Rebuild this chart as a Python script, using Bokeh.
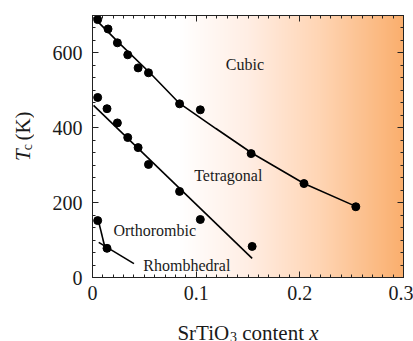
import numpy as np
from bokeh.plotting import figure
from bokeh.layouts import row, column
from bokeh.models import Label, LinearAxis, FixedTicker, Range1d
from bokeh.core.properties import value
from bokeh.embed import file_html
from bokeh.resources import INLINE

# Transition temperatures vs. SrTiO3 content
cubic_x = [0.005, 0.015, 0.024, 0.034, 0.044, 0.054, 0.084, 0.104, 0.153, 0.204, 0.254]
cubic_y = [689, 664, 627, 595, 560, 547, 464, 448, 331, 251, 189]

tetra_x = [0.005, 0.014, 0.024, 0.034, 0.044, 0.054, 0.084, 0.104, 0.154]
tetra_y = [481, 451, 413, 374, 347, 302, 230, 155, 83]

ortho_x = [0.005, 0.014]
ortho_y = [152, 78]

# Guide lines through the phase boundaries
cubic_line_x = [0.001, 0.027, 0.056, 0.084, 0.119, 0.154, 0.204, 0.254]
cubic_line_y = [695, 623, 545, 465, 398, 332, 251, 190]
tetra_line_x = [0.001, 0.154]
tetra_line_y = [460, 51]
ortho_line_x = [0.005, 0.012]
ortho_line_y = [160, 80]
rhombo_line_x = [0.006, 0.040]
rhombo_line_y = [94, 37]

x_ticks = [0, 0.1, 0.2, 0.3]
x_tick_labels = ["0", "0.1", "0.2", "0.3"]
y_ticks = [0, 200, 400, 600]

phase_names = ["Cubic", "Tetragonal", "Orthorombic", "Rhombhedral"]
phase_x = [0.147, 0.131, 0.060, 0.091]
phase_y = [570, 273, 126, 32]

X0, X1, Y0, Y1 = 0.0, 0.3, 0.0, 700.0
W, H = 413, 341
TITLE_W = 34          # strip on the left holding the y title
TITLE_H = 30          # strip at the bottom holding the x title
FL, FT, FW, FH = 92, 15, 311, 262  # frame placement on the page, pixels
FONT = "Liberation Serif"
INK = "#1a1a1a"

MW, MH = W - TITLE_W, H - TITLE_H
p = figure(width=MW, height=MH, x_range=Range1d(X0, X1), y_range=Range1d(Y0, Y1),
           output_backend="svg", toolbar_location=None,
           min_border_left=FL - TITLE_W, min_border_right=MW - (FL - TITLE_W) - FW,
           min_border_top=FT, min_border_bottom=MH - FT - FH)
p.grid.visible = False
p.outline_line_color = "#222222"
p.outline_line_width = 1
p.background_fill_color = "white"
p.border_fill_color = "white"

# horizontal white -> peach -> orange background
stops_x = [0.0, 0.085, 0.15, 0.22, 0.30]
stops_r = [255, 255, 255, 255, 250]
stops_g = [255, 255, 238, 213, 175]
stops_b = [255, 255, 228, 180, 110]
cols = np.linspace(X0, X1, 311)
img = np.zeros((2, cols.size), dtype=np.uint32)
view = img.view(dtype=np.uint8).reshape((2, cols.size, 4))
for k, st in enumerate([stops_r, stops_g, stops_b]):
    view[:, :, k] = np.interp(cols, stops_x, st).astype(np.uint8)
view[:, :, 3] = 255
p.image_rgba(image=[img], x=X0, y=Y0, dw=X1 - X0, dh=Y1 - Y0)

lw = 1.6
p.line(cubic_line_x, cubic_line_y, line_color="black", line_width=lw)
p.line(tetra_line_x, tetra_line_y, line_color="black", line_width=lw)
p.line(ortho_line_x, ortho_line_y, line_color="black", line_width=lw)
p.line(rhombo_line_x, rhombo_line_y, line_color="black", line_width=lw)

for xs, ys in [(cubic_x, cubic_y), (tetra_x, tetra_y), (ortho_x, ortho_y)]:
    p.scatter(xs, ys, size=8, marker="circle", fill_color="black", line_color="black")

for name, tx, ty in zip(phase_names, phase_x, phase_y):
    p.add_layout(Label(x=tx, y=ty, text=name, text_font=FONT, text_font_size="16px",
                       text_color=INK, text_align="center", text_baseline="middle"))

# axes with inward ticks on all four sides
minor_x = [i * 0.01 for i in range(31)]
minor_y = [i * 200 / 6 for i in range(22)]


def style(ax, ticks, minor, show):
    ax.ticker = FixedTicker(ticks=ticks, minor_ticks=minor)
    ax.major_tick_in = 6
    ax.major_tick_out = 0
    ax.minor_tick_in = 3
    ax.minor_tick_out = 0
    ax.major_tick_line_color = "#222222"
    ax.minor_tick_line_color = "#222222"
    ax.axis_line_color = "#222222"
    if show:
        ax.major_label_text_font = FONT
        ax.major_label_text_font_size = "20px"
        ax.major_label_text_color = INK
        ax.major_label_standoff = 8
    else:
        ax.major_label_text_alpha = 0
        ax.major_label_text_font_size = "1px"
        ax.major_label_standoff = 0


style(p.xaxis[0], x_ticks, minor_x, True)
p.xaxis[0].major_label_overrides = {t: s for t, s in zip(x_ticks, x_tick_labels)}
style(p.yaxis[0], y_ticks, minor_y, True)
p.yaxis[0].major_label_standoff = 10

top = LinearAxis()
style(top, x_ticks, minor_x, False)
top.major_label_overrides = {t: "" for t in x_ticks}
p.add_layout(top, "above")
right = LinearAxis()
style(right, y_ticks, minor_y, False)
right.major_label_overrides = {t: "" for t in y_ticks}
p.add_layout(right, "right")

# Times-compatible advance widths (em) for title layout
EM = {"S": .556, "r": .333, "T": .611, "i": .278, "O": .722, "c": .444, "o": .5,
      "n": .5, "t": .278, "e": .444, "x": .444, "3": .5, " ": .25, "(": .333,
      "K": .722, ")": .333}


def tw(s, size):
    return sum(EM[ch] for ch in s) * size


def strip(width, height):
    f = figure(width=width, height=height, x_range=Range1d(0, width),
               y_range=Range1d(0, height), output_backend="svg", toolbar_location=None,
               x_axis_type=None, y_axis_type=None, min_border=0)
    f.outline_line_color = None
    f.background_fill_color = "white"
    f.border_fill_color = "white"
    return f


def put(f, x, y, s, size, fstyle, angle=0.0):
    f.text(x=[x], y=[y], text=[s], text_font=value(FONT), text_font_size=f"{size}px",
           text_font_style=fstyle, angle=angle, text_color=INK,
           text_align="left", text_baseline="alphabetic")


TS = 21
SUB = 14

# x title: SrTiO3 content x
xt = strip(W, TITLE_H)
pieces = [("SrTiO", TS, "normal", 0), ("3", SUB, "normal", 4),
          (" ", TS, None, 0), ("content", TS, "normal", 0),
          (" ", TS, None, 0), ("x", TS, "italic", 0)]
total = sum(tw(s, sz) for s, sz, _, _ in pieces)
pos = FL + FW / 2 - total / 2
base = 332 - MH  # baseline, pixels from the top of the strip
for s, sz, fstyle, dy in pieces:
    if fstyle is not None:
        put(xt, pos, TITLE_H - (base + dy), s, sz, fstyle)
    pos += tw(s, sz)

# y title: Tc (K), rotated
yt = strip(TITLE_W, MH)
ypieces = [("T", TS, "italic", 0), ("c", SUB, "normal", 5),
           (" ", TS, None, 0), ("(K)", TS, "normal", 0)]
total = sum(tw(s, sz) for s, sz, _, _ in ypieces)
pos = FT + FH / 2 + total / 2
bx = 22
for s, sz, fstyle, dx in ypieces:
    if fstyle is not None:
        put(yt, bx + dx, MH - pos, s, sz, fstyle, angle=np.pi / 2)
    pos -= tw(s, sz)

layout = column(row(yt, p, spacing=0), xt, spacing=0)
open("out.html", "w").write(file_html(layout, INLINE))
